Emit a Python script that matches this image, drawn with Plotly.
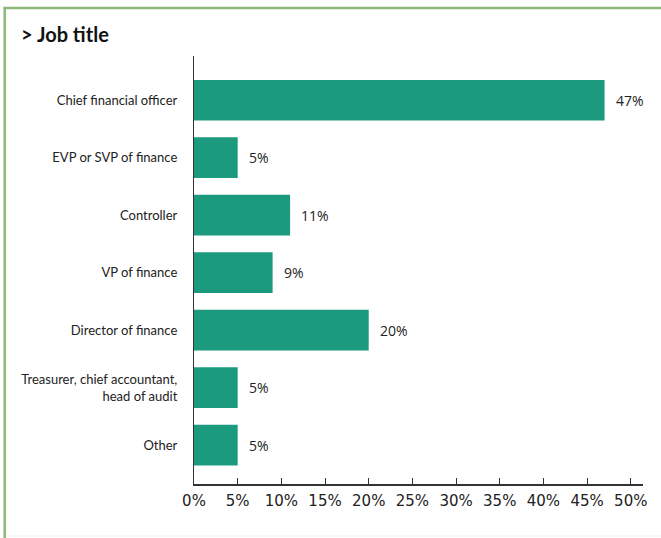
import plotly.graph_objects as go

# Survey respondents by job title (share of respondents, %)
titles = [
    "Chief financial officer",
    "EVP or SVP of finance",
    "Controller",
    "VP of finance",
    "Director of finance",
    "Treasurer, chief accountant,<br>head of audit",
    "Other",
]
shares = [47, 5, 11, 9, 20, 5, 5]
tick_vals = [0, 5, 10, 15, 20, 25, 30, 35, 40, 45, 50]
tick_text = [f"{v}%" for v in tick_vals]

bar_color = "#1b9a7e"
frame_color = "#8cb979"

W, H = 661, 538
ML, MR, MT, MB = 194, 18, 56, 54
PW, PH = W - ML - MR, H - MT - MB


def px_x(px):
    """Convert a pixel x position on the page to paper coordinates."""
    return (px - ML) / PW


def px_y(px):
    """Convert a pixel y position (from top) on the page to paper coordinates."""
    return 1 - (px - MT) / PH


fig = go.Figure(
    go.Bar(
        x=shares,
        y=titles,
        orientation="h",
        marker=dict(color=bar_color, line=dict(width=0)),
        width=0.708,
        hoverinfo="x+y",
    )
)

# value labels to the right of each bar
annotations = [
    dict(
        x=v, y=t, xref="x", yref="y",
        text=f"{v}%", showarrow=False,
        xanchor="left", yanchor="middle", xshift=9,
        font=dict(family="Open Sans", size=14, color="#222222"),
    )
    for t, v in zip(titles, shares)
]
annotations.append(
    dict(
        text="<b>&gt; Job title</b>",
        xref="paper", yref="paper",
        x=px_x(19), y=px_y(34),
        xanchor="left", yanchor="middle",
        showarrow=False,
        font=dict(family="Lato", size=20, color="#111111"),
    )
)

fig.update_layout(
    width=W,
    height=H,
    margin=dict(l=ML, r=MR, t=MT, b=MB),
    paper_bgcolor="white",
    plot_bgcolor="white",
    showlegend=False,
    annotations=annotations,
    shapes=[
        # top frame line
        dict(type="line", xref="paper", yref="paper",
             x0=px_x(3.5), x1=px_x(W + 2),
             y0=px_y(8), y1=px_y(8),
             line=dict(color=frame_color, width=2.5)),
        # left frame line
        dict(type="line", xref="paper", yref="paper",
             x0=px_x(4.7), x1=px_x(4.7),
             y0=px_y(H + 2), y1=px_y(7),
             line=dict(color=frame_color, width=2.5)),
        # faint bottom rule
        dict(type="line", xref="paper", yref="paper",
             x0=px_x(6), x1=px_x(W + 2),
             y0=px_y(536), y1=px_y(536),
             line=dict(color="#eeeeee", width=1)),
    ],
)

fig.update_xaxes(
    range=[0, 51.4],
    tickvals=tick_vals,
    ticktext=tick_text,
    ticks="inside",
    ticklen=6,
    tickwidth=1.2,
    tickcolor="#333333",
    showline=True,
    linecolor="#333333",
    linewidth=1.5,
    showgrid=False,
    zeroline=False,
    ticklabelstandoff=2,
    tickfont=dict(family="DejaVu Sans", size=15, color="#222222"),
)

fig.update_yaxes(
    categoryorder="array",
    categoryarray=titles,
    range=[6.678, -0.770],
    showline=True,
    linecolor="#333333",
    linewidth=1.2,
    showgrid=False,
    zeroline=False,
    ticks="",
    ticklabelstandoff=13,
    tickfont=dict(family="Lato", size=13, color="#222222"),
)

fig.write_html("out.html")
